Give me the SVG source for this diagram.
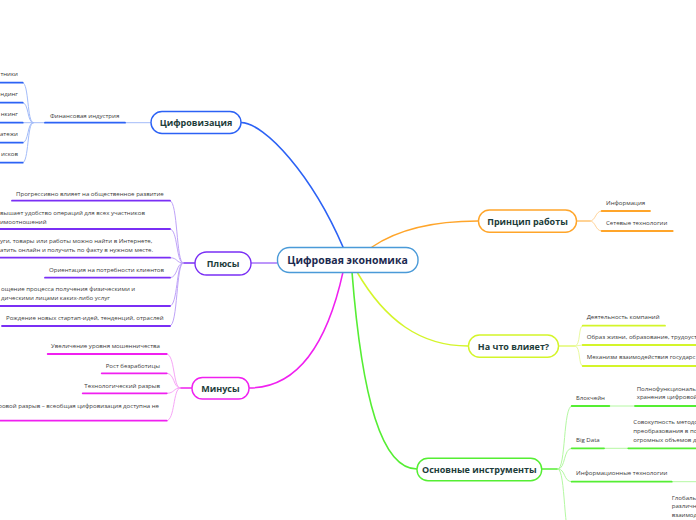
<svg xmlns="http://www.w3.org/2000/svg" width="696" height="520" viewBox="0 0 696 520">
<style>
.bg{fill:#ffffff}
.node{fill:#ffffff;stroke-width:1.4}
.nt{font-family:"Open Sans","Noto Sans",sans-serif;font-weight:bold;font-size:9px;fill:#1d3d3a;text-anchor:middle}
.ct{font-family:"Open Sans","Noto Sans",sans-serif;font-weight:bold;font-size:10.5px;fill:#1c2a4f;text-anchor:middle}
.lt{font-family:"Open Sans","Noto Sans",sans-serif;font-size:6.1px;fill:#3a3a3a}
.e{text-anchor:end}
.c{fill:none;stroke-linecap:round}
.blue{stroke:#2c62f5}
.lblue{stroke:#a3bcf9}
.pur{stroke:#7a2ff5}
.lpur{stroke:#bfa3f8}
.mag{stroke:#f020f0}
.lmag{stroke:#f7a6f7}
.ora{stroke:#ffa52a}
.lora{stroke:#ffd49a}
.yel{stroke:#d4f52a}
.lyel{stroke:#eafaa0}
.grn{stroke:#55ee33}
.lgrn{stroke:#b4f8a2}
.ul{stroke-width:1.8}
.ln{stroke-width:1}
</style>
<rect class="bg" x="0" y="0" width="696" height="520"/>
<g id="connectors">
<path class="c blue" stroke-width="1.6" d="M343,247 C312,175 265,123 241,122.5"/>
<path class="c ora" stroke-width="1.5" d="M372,247 C400,228 440,221 478,221"/>
<path class="c pur" stroke-width="1" d="M277,263 L251,263"/>
<path class="c mag" stroke-width="1.5" d="M343,272 C328,340 300,388 249,388"/>
<path class="c yel" stroke-width="1.5" d="M357,272 C385,320 420,346 468,346"/>
<path class="c grn" stroke-width="1.6" d="M352,272 C362,400 382,469 417,469"/>
<path class="c lblue ln" d="M151,122.7 L125,122.7"/>
<path class="c lblue ln" d="M45,122.7 L33,122.7"/>
<path class="c lblue ln" d="M33,122.7 C27,122.7 29,82.7 22.7,82.7"/>
<path class="c lblue ln" d="M33,122.7 C27,122.7 29,102.7 22.7,102.7"/>
<path class="c lblue ln" d="M33,122.7 L22.7,122.7"/>
<path class="c lblue ln" d="M33,122.7 C27,122.7 29,142.7 22.7,142.7"/>
<path class="c lblue ln" d="M33,122.7 C27,122.7 29,162.7 22.7,162.7"/>
<path class="c pur" stroke-width="1.4" d="M195,263 L183,263"/>
<path class="c lpur ln" d="M183,263 C176,263 178,200.7 170,200.7"/>
<path class="c lpur ln" d="M183,263 C176,263 178,229 170,229"/>
<path class="c lpur ln" d="M183,263 C176,263 178,257.7 170,257.7"/>
<path class="c lpur ln" d="M183,263 C176,263 178,277.7 170,277.7"/>
<path class="c lpur ln" d="M183,263 C176,263 178,306 170,306"/>
<path class="c lpur ln" d="M183,263 C176,263 178,326 170,326"/>
<path class="c mag" stroke-width="1.4" d="M192,388 L180,388"/>
<path class="c lmag ln" d="M180,388 C173,388 175,354 166.7,354"/>
<path class="c lmag ln" d="M180,388 C173,388 175,373.3 166.7,373.3"/>
<path class="c lmag ln" d="M180,388 C173,388 175,393.3 166.7,393.3"/>
<path class="c lmag ln" d="M180,388 C173,388 175,420.7 166.7,420.7"/>
<path class="c ora" stroke-width="1.2" d="M577,221 L590,221"/>
<path class="c lora ln" d="M590,221 C596,221 595,211 601.7,211"/>
<path class="c lora ln" d="M590,221 C596,221 595,231 601.7,231"/>
<path class="c yel" stroke-width="1.2" d="M558,346 L575,346"/>
<path class="c lyel ln" d="M575,346 C581,346 578,325.7 582.7,325.7"/>
<path class="c lyel ln" d="M575,346 L582.7,345"/>
<path class="c lyel ln" d="M575,346 C581,346 578,366 582.7,366"/>
<path class="c grn" stroke-width="1.4" d="M541.7,469 L558,469"/>
<path class="c lgrn ln" d="M558,469 C566,469 563,406 571.7,406"/>
<path class="c lgrn ln" d="M558,469 C566,469 563,448.3 571.7,448.3"/>
<path class="c lgrn ln" d="M558,469 C566,469 563,481.7 571.7,481.7"/>
<path class="c lgrn ln" d="M558,469 C566,469 563,540 571.7,540"/>
<path class="c lgrn ln" d="M609.3,406 L635,406"/>
<path class="c lgrn ln" d="M604,448.3 L628.3,448.3"/>
<path class="c lgrn ln" d="M671.7,481.7 L696,481.7"/>
</g>
<g id="central">
<rect class="node" x="277.5" y="247.5" width="140.5" height="25" rx="12" stroke="#4a9ad8"/>
<text class="ct" x="347.5" y="264">Цифровая экономика</text>
</g>
<g id="cifrovizaciya">
<rect class="node" x="151" y="111.5" width="90" height="22" rx="11" stroke="#2c62f5"/>
<text class="nt" x="196" y="125.5">Цифровизация</text>
</g>
<g id="finansy">
<text class="lt" x="50" y="117.5">Финансовая индустрия</text>
<path class="c blue ul" d="M45,122.7 L125,122.7"/>
</g>
<g id="fin-1"><text class="lt e" x="18" y="76">тники</text><path class="c blue ul" d="M0,82.7 L22.7,82.7"/></g>
<g id="fin-2"><text class="lt e" x="18" y="96">ндинг</text><path class="c blue ul" d="M0,102.7 L22.7,102.7"/></g>
<g id="fin-3"><text class="lt e" x="18" y="116">нкинг</text><path class="c blue ul" d="M0,122.7 L22.7,122.7"/></g>
<g id="fin-4"><text class="lt e" x="18" y="136">атежи</text><path class="c blue ul" d="M0,142.7 L22.7,142.7"/></g>
<g id="fin-5"><text class="lt e" x="18" y="156">исков</text><path class="c blue ul" d="M0,162.7 L22.7,162.7"/></g>
<g id="plyusy">
<rect class="node" x="195" y="252" width="56" height="23" rx="11.5" stroke="#7a2ff5"/>
<text class="nt" x="223" y="266.5">Плюсы</text>
</g>
<g id="plus-1"><text class="lt" x="16" y="195.7">Прогрессивно влияет на общественное развитие</text><path class="c pur ul" d="M12,200.7 L170,200.7"/></g>
<g id="plus-2"><text class="lt" x="0" y="215">вышает удобство операций для всех участников</text><text class="lt" x="0" y="223.5">имоотношений</text><path class="c pur ul" d="M0,229 L170,229"/></g>
<g id="plus-3"><text class="lt" x="0" y="242.5">уги, товары или работы можно найти в Интернете,</text><text class="lt" x="0" y="251.5">атить онлайн и получить по факту в нужном месте.</text><path class="c pur ul" d="M0,257.7 L170,257.7"/></g>
<g id="plus-4"><text class="lt" x="49" y="271.7">Ориентация на потребности клиентов</text><path class="c pur ul" d="M45,277.7 L170,277.7"/></g>
<g id="plus-5"><text class="lt" x="1" y="291">ощение процесса получения физическими и</text><text class="lt" x="1" y="299.5">дическими лицами каких-либо услуг</text><path class="c pur ul" d="M0,306 L170,306"/></g>
<g id="plus-6"><text class="lt" x="6" y="320">Рождение новых стартап-идей, тенденций, отраслей</text><path class="c pur ul" d="M2,326 L170,326"/></g>
<g id="minusy">
<rect class="node" x="192" y="377.5" width="57" height="21.5" rx="10.5" stroke="#f020f0"/>
<text class="nt" x="220.5" y="391.5">Минусы</text>
</g>
<g id="minus-1"><text class="lt e" x="160" y="348.3">Увеличение уровня мошенничества</text><path class="c mag ul" d="M47.7,354 L166.7,354"/></g>
<g id="minus-2"><text class="lt e" x="160" y="367.7">Рост безработицы</text><path class="c mag ul" d="M101.7,373.3 L166.7,373.3"/></g>
<g id="minus-3"><text class="lt e" x="160" y="388.3">Технологический разрыв</text><path class="c mag ul" d="M82.7,393.3 L166.7,393.3"/></g>
<g id="minus-4"><text class="lt e" x="159" y="408.3">ровой разрыв – всеобщая цифровизация доступна не</text><path class="c mag ul" d="M0,420.7 L166.7,420.7"/></g>
<g id="princip">
<rect class="node" x="478.5" y="210" width="98" height="22.3" rx="11" stroke="#ffa52a"/>
<text class="nt" x="527.5" y="224.5">Принцип работы</text>
</g>
<g id="pr-1"><text class="lt" x="606" y="205">Информация</text><path class="c ora ul" d="M601.7,211 L650,211"/></g>
<g id="pr-2"><text class="lt" x="606" y="224.7">Сетевые технологии</text><path class="c ora ul" d="M601.7,231 L672.7,231"/></g>
<g id="vliyaet">
<rect class="node" x="468.5" y="335" width="90" height="22.3" rx="11" stroke="#d4f52a"/>
<text class="nt" x="513.5" y="349.5">На что влияет?</text>
</g>
<g id="vl-1"><text class="lt" x="586.7" y="319.3">Деятельность компаний</text><path class="c yel ul" d="M582.7,325.7 L665,325.7"/></g>
<g id="vl-2"><text class="lt" x="586.7" y="339.3">Образ жизни, образование, трудоуст</text><path class="c yel ul" d="M582.7,345 L696,345"/></g>
<g id="vl-3"><text class="lt" x="586.7" y="359.3">Механизм взаимодействия государс</text><path class="c yel ul" d="M582.7,366 L696,366"/></g>
<g id="instrumenty">
<rect class="node" x="417" y="458.3" width="124.7" height="22.4" rx="11" stroke="#55ee33"/>
<text class="nt" x="479.3" y="473">Основные инструменты</text>
</g>
<g id="in-1"><text class="lt" x="576" y="400">Блокчейн</text><path class="c grn ul" d="M571.7,406 L609.3,406"/></g>
<g id="in-1d"><text class="lt" x="636.7" y="391">Полнофункциональ</text><text class="lt" x="636.7" y="399.3">хранения цифровой</text><path class="c grn ul" d="M635,406 L696,406"/></g>
<g id="in-2"><text class="lt" x="576" y="441.7">Big Data</text><path class="c grn ul" d="M571.7,448.3 L604,448.3"/></g>
<g id="in-2d"><text class="lt" x="633.3" y="424.3">Совокупность методо</text><text class="lt" x="633.3" y="433">преобразования в по</text><text class="lt" x="633.3" y="441.7">огромных объемов да</text><path class="c grn ul" d="M628.3,448.3 L696,448.3"/></g>
<g id="in-3"><text class="lt" x="576" y="475">Информационные технологии</text><path class="c grn ul" d="M571.7,481.7 L671.7,481.7"/></g>
<g id="in-4d"><text class="lt" x="671.7" y="500">Глобаль</text><text class="lt" x="671.7" y="508.3">различн</text><text class="lt" x="671.7" y="516.7">взаимод</text></g>
</svg>
